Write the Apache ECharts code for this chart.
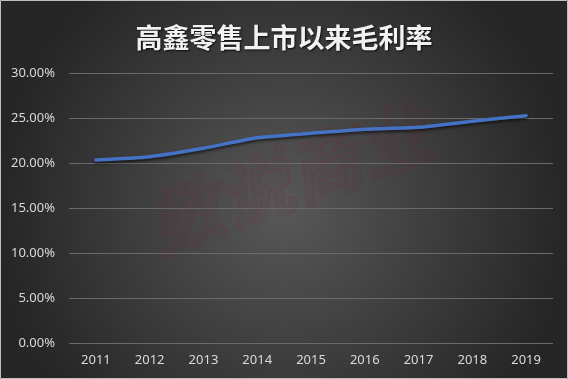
<!DOCTYPE html>
<html><head><meta charset="utf-8">
<script src="https://cdn.jsdelivr.net/npm/echarts@6/dist/echarts.min.js"></script>
<style>html,body{margin:0;padding:0;background:#333;}#c{width:568px;height:379px;}</style>
</head><body><div id="c"></div>
<script>
const titleText = '高鑫零售上市以来毛利率';
const years = ['2011','2012','2013','2014','2015','2016','2017','2018','2019'];
const grossMargin = [20.37, 20.74, 21.67, 22.84, 23.33, 23.78, 24.0, 24.67, 25.29];
const yTicks = {min: 0, max: 30, interval: 5};
const watermark = '数说商业';

const chart = echarts.init(document.getElementById('c'), null, {renderer: 'canvas'});
chart.setOption({
  backgroundColor: {
    type: 'radial', x: 0.5, y: 0.55, r: 0.75,
    colorStops: [{offset: 0, color: '#585858'}, {offset: 1, color: '#262626'}]
  },
  animation: false,
  title: {
    text: titleText, left: 'center', top: 19,
    textStyle: {color: '#f2f2f2', fontSize: 27, fontWeight: 'bold',
      fontFamily: 'Noto Sans CJK SC', textShadowColor: 'rgba(0,0,0,0.8)',
      textShadowBlur: 2, textShadowOffsetX: 1, textShadowOffsetY: 1}
  },
  graphic: [{
    type: 'text', x: 290, y: 178, rotation: 20 * Math.PI / 180, z: 0, silent: true,
    style: {text: watermark, font: 'italic bold 74px "Noto Sans CJK SC"',
      align: 'center', verticalAlign: 'middle',
      fill: 'rgba(110,40,50,0.06)', stroke: 'rgba(130,40,55,0.22)', lineWidth: 1.5}
  }, {
    type: 'rect', shape: {x: 0.5, y: 0.5, width: 567, height: 378}, z: 0, silent: true,
    style: {fill: 'none', stroke: '#bfbfbf', lineWidth: 1}
  }],
  grid: {left: 69, right: 15, top: 73.3, bottom: 35.7, containLabel: false},
  xAxis: {
    type: 'category', data: years, boundaryGap: true,
    axisLine: {show: false}, axisTick: {show: false},
    axisLabel: {color: '#d9d9d9', fontSize: 13, fontFamily: 'Noto Sans', margin: 10}
  },
  yAxis: {
    type: 'value', min: yTicks.min, max: yTicks.max, interval: yTicks.interval,
    axisLine: {show: false}, axisTick: {show: false},
    axisLabel: {color: '#d9d9d9', fontSize: 13, fontFamily: 'Noto Sans', margin: 14,
      formatter: v => v.toFixed(2) + '%'},
    splitLine: {lineStyle: {color: '#6a6a6a', width: 1}}
  },
  series: [{
    type: 'line', data: grossMargin, smooth: 0.2, symbol: 'none', z: 5,
    lineStyle: {color: '#4472C4', width: 3.5, cap: 'round',
      shadowColor: 'rgba(0,0,0,0.6)', shadowBlur: 3, shadowOffsetY: 2}
  }]
});
</script></body></html>
